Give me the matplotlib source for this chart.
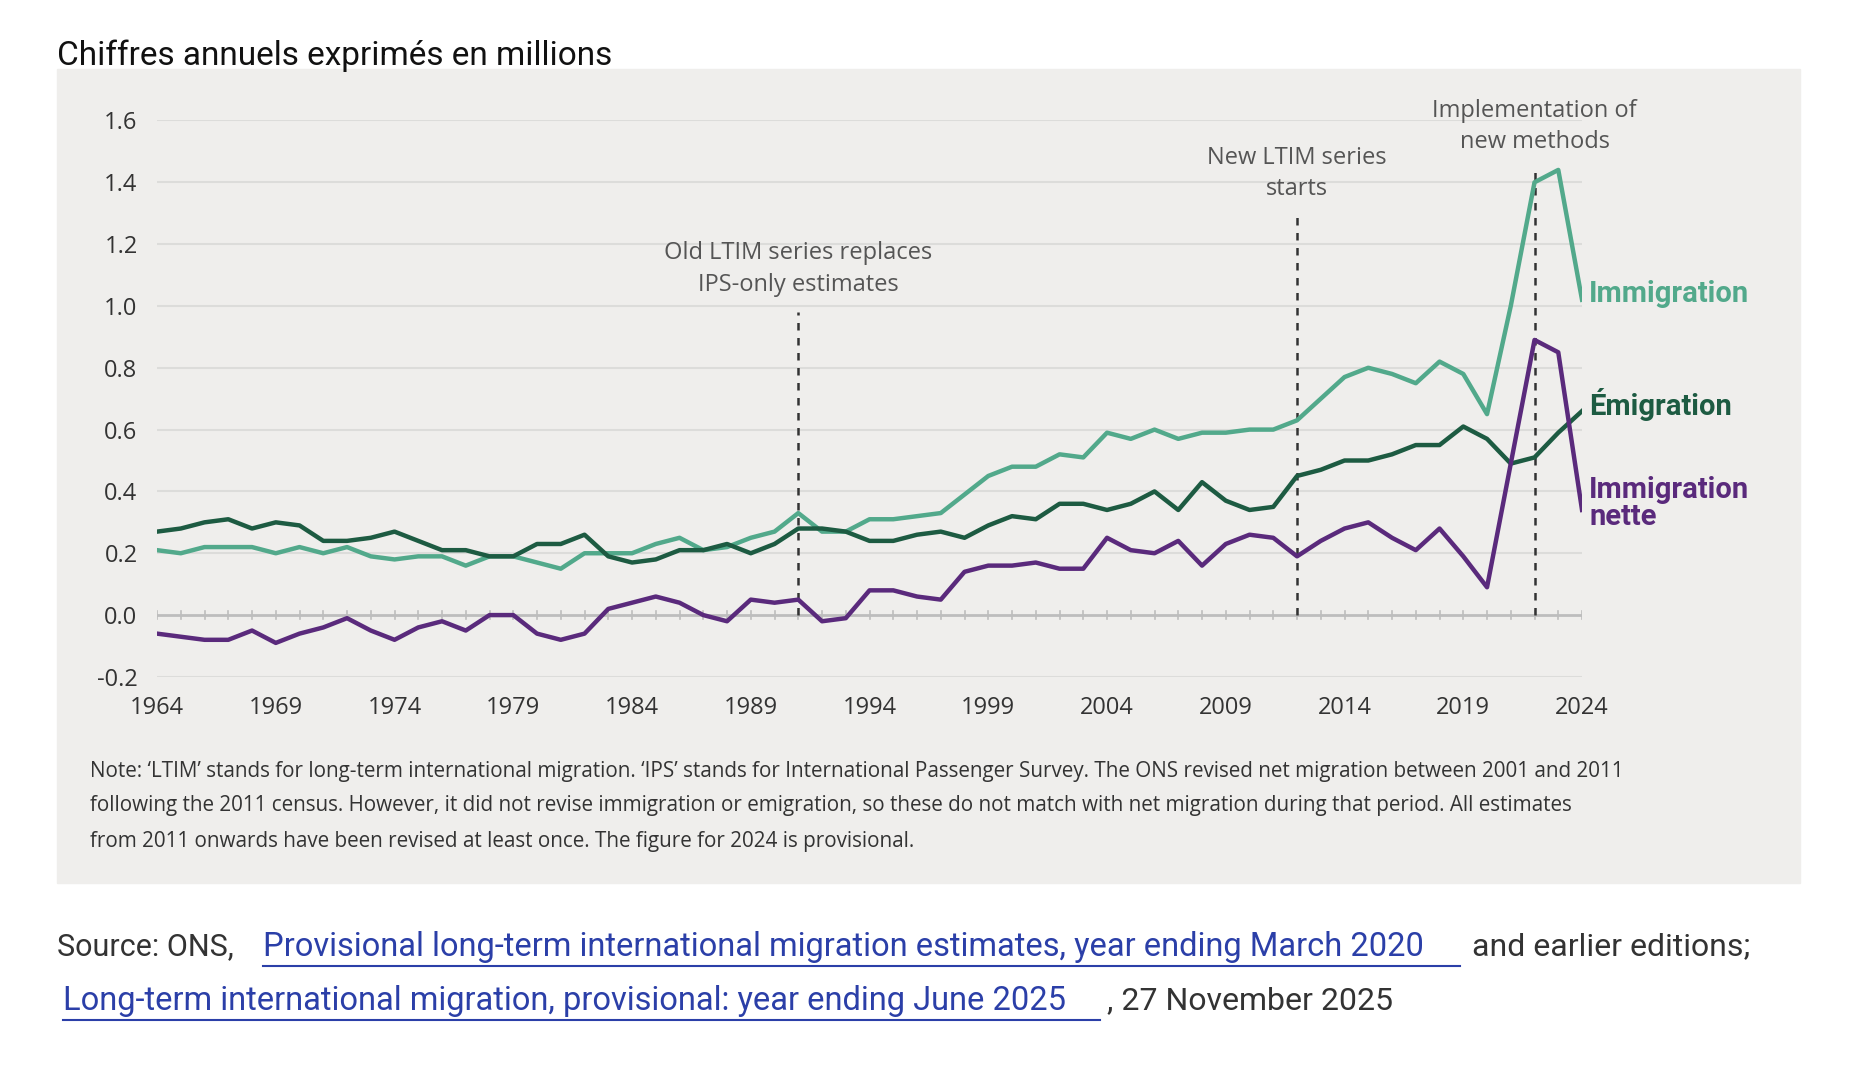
import matplotlib
matplotlib.use("Agg")
import matplotlib.pyplot as plt
from matplotlib.patches import Rectangle

years = list(range(1964, 2025))
immigration = [.21,.20,.22,.22,.22,.20,.22,.20,.22,.19,.18,.19,.19,.16,.19,.19,.17,.15,.20,.20,
               .20,.23,.25,.21,.22,.25,.27,.33,.27,.27,.31,.31,.32,.33,.39,.45,.48,.48,.52,.51,
               .59,.57,.60,.57,.59,.59,.60,.60,.63,.70,.77,.80,.78,.75,.82,.78,.65,1.0,1.40,1.44,1.02]
emigration = [.27,.28,.30,.31,.28,.30,.29,.24,.24,.25,.27,.24,.21,.21,.19,.19,.23,.23,.26,.19,
              .17,.18,.21,.21,.23,.20,.23,.28,.28,.27,.24,.24,.26,.27,.25,.29,.32,.31,.36,.36,
              .34,.36,.40,.34,.43,.37,.34,.35,.45,.47,.50,.50,.52,.55,.55,.61,.57,.49,.51,.59,.66]
net = [-.06,-.07,-.08,-.08,-.05,-.09,-.06,-.04,-.01,-.05,-.08,-.04,-.02,-.05,0.0,0.0,-.06,-.08,-.06,.02,
       .04,.06,.04,0.0,-.02,.05,.04,.05,-.02,-.01,.08,.08,.06,.05,.14,.16,.16,.17,.15,.15,
       .25,.21,.20,.24,.16,.23,.26,.25,.19,.24,.28,.30,.25,.21,.28,.19,.09,.49,.89,.85,.34]
yticks = [-0.2, 0.0, 0.2, 0.4, 0.6, 0.8, 1.0, 1.2, 1.4, 1.6]
xticks = list(range(1964, 2025, 5))
vlines = [(1991, "Old LTIM series replaces\nIPS-only estimates", 0.98),
          (2012, "New LTIM series\nstarts", 1.29),
          (2022, "Implementation of\nnew methods", 1.44)]

C_IMM, C_EMI, C_NET = "#52A98B", "#1D5B42", "#5A2A7C"
fig = plt.figure(figsize=(18.76, 10.66), dpi=100)
fig.patches.append(Rectangle((57/1876, 1-883/1066), (1800-57)/1876, (883-69)/1066,
                             transform=fig.transFigure, color="#EFEEEC", zorder=-10))
ax = fig.add_axes([0.0837, 0.365, 0.7596, 0.522])
ax.set_zorder(5)
ax.set_facecolor("none")
ax.patch.set_alpha(0)
ax.set_xlim(1964, 2024); ax.set_ylim(-0.2, 1.6)
for s in ax.spines.values(): s.set_visible(False)
for y in yticks:
    if y != 0:
        ax.axhline(y, color="#DCDCDA", lw=1.5, zorder=1)
ax.axhline(0, color="#BDBDBD", lw=2, zorder=1)
for yr in years:
    ax.plot([yr, yr], [-0.012, 0.012], color="#BDBDBD", lw=1.2, zorder=1)
ax.plot(years, immigration, color=C_IMM, lw=3.2, zorder=3)
ax.plot(years, emigration, color=C_EMI, lw=3.2, zorder=3)
ax.plot(years, net, color=C_NET, lw=3.2, zorder=3)
for x, lab, top in vlines:
    ax.plot([x, x], [0, top], ls=(0, (3, 3)), color="#333333", lw=1.8, zorder=2)
    ax.text(x, top + 0.05, lab, ha="center", va="bottom", fontsize=17,
            color="#555555", family="Open Sans", linespacing=1.4)
ax.set_yticks(yticks)
ax.set_yticklabels([f"{v:.1f}" for v in yticks])
ax.set_xticks(xticks)
ax.tick_params(length=0, labelsize=17, labelcolor="#333333", pad=14)
for lab in ax.get_xticklabels() + ax.get_yticklabels():
    lab.set_family("Open Sans")
ax.text(2024.3, immigration[-1] + 0.02, "Immigration", color=C_IMM, fontsize=21,
        fontweight="bold", va="center", family="Roboto")
ax.text(2024.3, emigration[-1] + 0.02, "Émigration", color=C_EMI, fontsize=21,
        fontweight="bold", va="center", family="Roboto")
ax.text(2024.3, net[-1] + 0.02, "Immigration\nnette", color=C_NET, fontsize=21,
        fontweight="bold", va="center", family="Roboto", linespacing=0.95)

fig.text(57/1876, 1-56/1066, "Chiffres annuels exprimés en millions", fontsize=24,
         va="center", family="Roboto", color="#111111")
notes = ["Note: ‘LTIM’ stands for long-term international migration. ‘IPS’ stands for International Passenger Survey. The ONS revised net migration between 2001 and 2011",
         "following the 2011 census. However, it did not revise immigration or emigration, so these do not match with net migration during that period. All estimates",
         "from 2011 onwards have been revised at least once. The figure for 2024 is provisional."]
for i, n in enumerate(notes):
    fig.text(90/1876, 1-(771+35*i)/1066, n, fontsize=14.9, va="center",
             family="Open Sans", color="#333333")
link = "#2B3FA8"
y1 = 1-947/1066
fig.text(57/1876, y1, "Source: ONS,", fontsize=22, va="center", color="#333333", family="Roboto")
fig.text(263/1876, y1, "Provisional long-term international migration estimates, year ending March 2020",
         fontsize=23.5, va="center", color=link, family="Roboto")
fig.text(1472/1876, y1, "and earlier editions;", fontsize=23, va="center", color="#333333", family="Roboto")
y2 = 1-1001/1066
fig.text(63/1876, y2, "Long-term international migration, provisional: year ending June 2025",
         fontsize=23.5, va="center", color=link, family="Roboto")
fig.text(1107/1876, y2, ", 27 November 2025", fontsize=23, va="center", color="#333333", family="Roboto")
for yy, x0, x1 in [(y1 - 0.018, 263, 1460), (y2 - 0.018, 63, 1100)]:
    fig.add_artist(plt.Line2D([x0/1876, x1/1876], [yy, yy], color=link, lw=1.5))
fig.savefig("out.png", dpi=100)
